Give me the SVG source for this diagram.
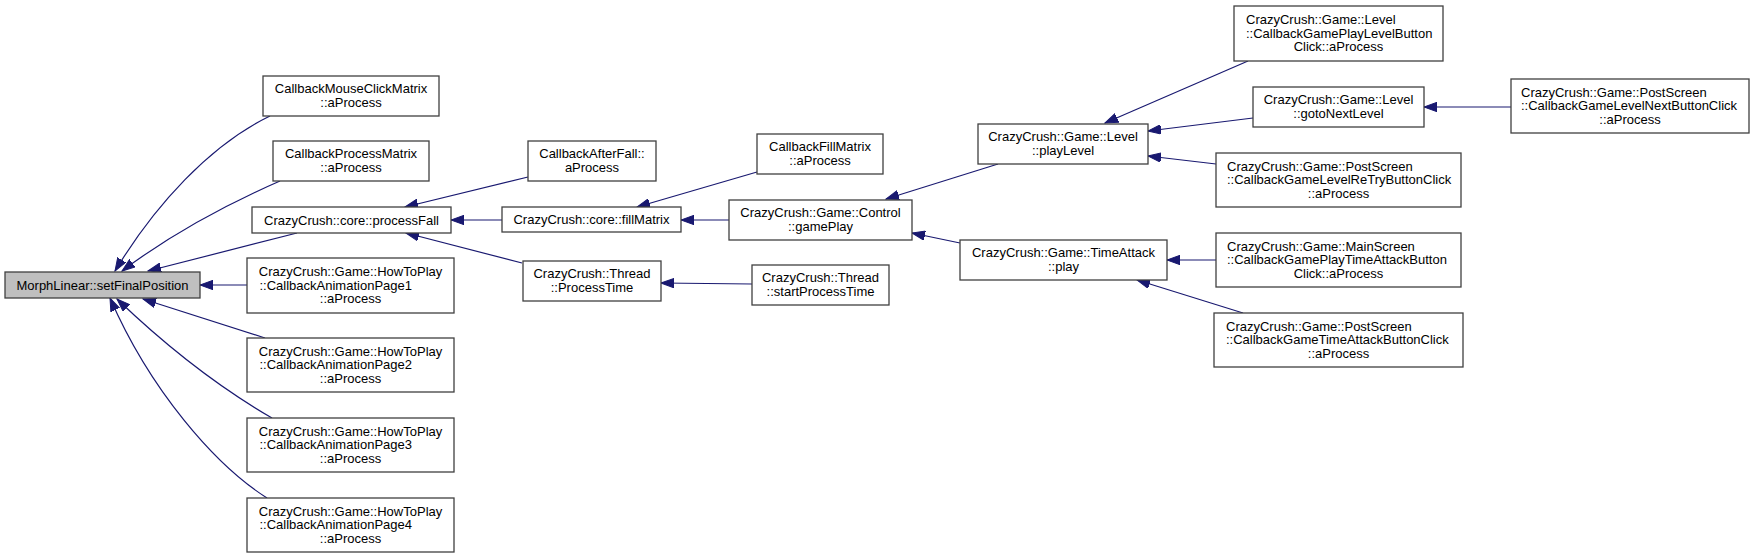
<svg xmlns="http://www.w3.org/2000/svg" width="1755" height="559" viewBox="0 0 1755 559">
<style>
.n rect{fill:#ffffff;stroke:#404040;stroke-width:1.3}
.n.g rect{fill:#bfbfbf}
text{font-family:"Liberation Sans",Arial,Helvetica,sans-serif;font-size:13px;fill:#000}
.c{text-anchor:middle}
.e path{fill:none;stroke:#191970;stroke-width:1.2;marker-end:url(#ah)}
</style>
<defs>
<marker id="ah" markerUnits="userSpaceOnUse" markerWidth="14" markerHeight="10" refX="13" refY="5" orient="auto" viewBox="0 0 14 10">
<path d="M0,0.3 L13,5 L0,9.7 Z" fill="#191970" stroke="#191970" stroke-width="1"/>
</marker>
</defs>
<rect width="1755" height="559" fill="#ffffff"/>
<g id="edges" class="e">
<path d="M270,116 C210,145 155,205 115,271"/>
<path d="M280,181 C225,205 170,235 122,271"/>
<path d="M297,233 L148,271"/>
<path d="M247,285 L200,285"/>
<path d="M265,338 L143,299"/>
<path d="M272,418 C215,385 165,345 117,299"/>
<path d="M267,498 C215,465 150,390 110,298"/>
<path d="M528,177 L405,207"/>
<path d="M502,220 L451,220"/>
<path d="M522,263 L406,233"/>
<path d="M757,172 L637,207"/>
<path d="M729,220 L681,220"/>
<path d="M752,284 L661,283"/>
<path d="M998,164 L886,199"/>
<path d="M960,243 L912,233"/>
<path d="M1248,61 L1105,123"/>
<path d="M1253,118 L1148,131"/>
<path d="M1216,164 L1148,156"/>
<path d="M1511,107 L1424,107"/>
<path d="M1216,260 L1167,260"/>
<path d="M1243,313 L1137,280"/>
</g>
<g id="n_morph" class="n g"><rect x="5" y="272" width="195" height="26"/><text class="c" x="102.5" y="289.5">MorphLinear::setFinalPosition</text></g>
<g id="n_mouseclick" class="n"><rect x="263" y="76" width="176" height="40"/><text class="c" x="351" y="92.5">CallbackMouseClickMatrix</text><text class="c" x="351" y="106.5">::aProcess</text></g>
<g id="n_processmatrix" class="n"><rect x="273" y="141" width="156" height="40"/><text class="c" x="351" y="157.5">CallbackProcessMatrix</text><text class="c" x="351" y="171.5">::aProcess</text></g>
<g id="n_processfall" class="n"><rect x="252" y="207" width="199" height="26"/><text class="c" x="351.5" y="224.5">CrazyCrush::core::processFall</text></g>
<g id="n_htp1" class="n"><rect x="247" y="258" width="207" height="55"/><text class="c" x="350.5" y="276">CrazyCrush::Game::HowToPlay</text><text x="259.5" y="289.5">::CallbackAnimationPage1</text><text class="c" x="350.5" y="303">::aProcess</text></g>
<g id="n_htp2" class="n"><rect x="247" y="338" width="207" height="54"/><text class="c" x="350.5" y="355.5">CrazyCrush::Game::HowToPlay</text><text x="259.5" y="369">::CallbackAnimationPage2</text><text class="c" x="350.5" y="382.5">::aProcess</text></g>
<g id="n_htp3" class="n"><rect x="247" y="418" width="207" height="54"/><text class="c" x="350.5" y="435.5">CrazyCrush::Game::HowToPlay</text><text x="259.5" y="449">::CallbackAnimationPage3</text><text class="c" x="350.5" y="462.5">::aProcess</text></g>
<g id="n_htp4" class="n"><rect x="247" y="498" width="207" height="54"/><text class="c" x="350.5" y="515.5">CrazyCrush::Game::HowToPlay</text><text x="259.5" y="529">::CallbackAnimationPage4</text><text class="c" x="350.5" y="542.5">::aProcess</text></g>
<g id="n_afterfall" class="n"><rect x="528" y="141" width="128" height="40"/><text class="c" x="592" y="157.5">CallbackAfterFall::</text><text class="c" x="592" y="171.5">aProcess</text></g>
<g id="n_fillmatrix" class="n"><rect x="502" y="207" width="179" height="25"/><text class="c" x="591.5" y="224">CrazyCrush::core::fillMatrix</text></g>
<g id="n_processtime" class="n"><rect x="523" y="261" width="138" height="40"/><text class="c" x="592" y="277.5">CrazyCrush::Thread</text><text class="c" x="592" y="291.5">::ProcessTime</text></g>
<g id="n_fillmatrixcb" class="n"><rect x="757" y="134" width="126" height="40"/><text class="c" x="820" y="150.5">CallbackFillMatrix</text><text class="c" x="820" y="164.5">::aProcess</text></g>
<g id="n_gameplay" class="n"><rect x="729" y="200" width="183" height="40"/><text class="c" x="820.5" y="216.5">CrazyCrush::Game::Control</text><text class="c" x="820.5" y="230.5">::gamePlay</text></g>
<g id="n_startprocesstime" class="n"><rect x="752" y="265" width="137" height="40"/><text class="c" x="820.5" y="281.5">CrazyCrush::Thread</text><text class="c" x="820.5" y="295.5">::startProcessTime</text></g>
<g id="n_playlevel" class="n"><rect x="978" y="124" width="170" height="40"/><text class="c" x="1063" y="140.5">CrazyCrush::Game::Level</text><text class="c" x="1063" y="154.5">::playLevel</text></g>
<g id="n_play" class="n"><rect x="960" y="240" width="207" height="40"/><text class="c" x="1063.5" y="256.5">CrazyCrush::Game::TimeAttack</text><text class="c" x="1063.5" y="270.5">::play</text></g>
<g id="n_playlevelbtn" class="n"><rect x="1234" y="6" width="209" height="55"/><text x="1246" y="24">CrazyCrush::Game::Level</text><text x="1246" y="37.5">::CallbackGamePlayLevelButton</text><text class="c" x="1338.5" y="51">Click::aProcess</text></g>
<g id="n_gotonextlevel" class="n"><rect x="1253" y="87" width="171" height="40"/><text class="c" x="1338.5" y="103.5">CrazyCrush::Game::Level</text><text class="c" x="1338.5" y="117.5">::gotoNextLevel</text></g>
<g id="n_retry" class="n"><rect x="1216" y="153" width="245" height="54"/><text x="1227" y="170.5">CrazyCrush::Game::PostScreen</text><text x="1227" y="184">::CallbackGameLevelReTryButtonClick</text><text class="c" x="1338.5" y="197.5">::aProcess</text></g>
<g id="n_mainscreen" class="n"><rect x="1216" y="233" width="245" height="54"/><text x="1227" y="250.5">CrazyCrush::Game::MainScreen</text><text x="1227" y="264">::CallbackGamePlayTimeAttackButton</text><text class="c" x="1338.5" y="277.5">Click::aProcess</text></g>
<g id="n_posttimeattack" class="n"><rect x="1214" y="313" width="249" height="54"/><text x="1226" y="330.5">CrazyCrush::Game::PostScreen</text><text x="1226" y="344">::CallbackGameTimeAttackButtonClick</text><text class="c" x="1338.5" y="357.5">::aProcess</text></g>
<g id="n_nextbtn" class="n"><rect x="1511" y="79" width="238" height="54"/><text x="1521" y="96.5">CrazyCrush::Game::PostScreen</text><text x="1521" y="110">::CallbackGameLevelNextButtonClick</text><text class="c" x="1630" y="123.5">::aProcess</text></g>
</svg>
